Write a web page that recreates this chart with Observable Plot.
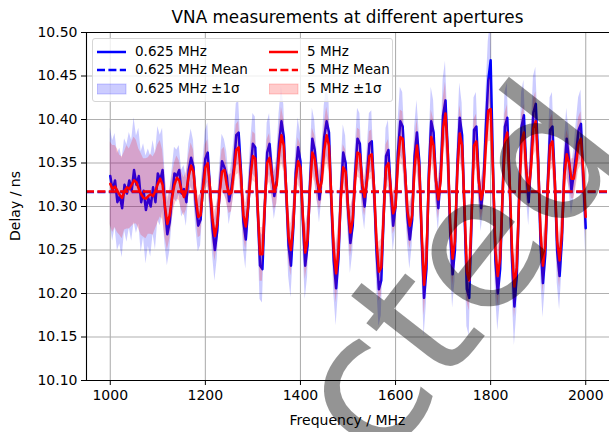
<!DOCTYPE html>
<html><head><meta charset="utf-8">
<script src="https://cdn.jsdelivr.net/npm/d3@7"></script>
<script src="https://cdn.jsdelivr.net/npm/@observablehq/plot@0.6"></script>
<style>
html,body{margin:0;padding:0;background:#fff;}
#fig{position:relative;width:609px;height:432px;overflow:hidden;font-family:"DejaVu Sans",sans-serif;}
#fig svg{position:absolute;left:0;top:0;}
#legend{position:absolute;left:92px;top:38px;width:299px;height:62px;background:rgba(255,255,255,0.8);border:1px solid #d6d6d6;border-radius:3px;font-size:13.5px;color:#000;}
.item{position:absolute;height:16px;line-height:16px;white-space:nowrap;}
.item svg{position:absolute;left:0;top:0;}
.item span{position:absolute;left:38px;top:-1px;}
</style></head>
<body><div id="fig"></div>
<script>
// ---- data ----
const freqStart = 1000, freqEnd = 2000, freqStep = 5;
const xTicks = [1000, 1200, 1400, 1600, 1800, 2000];
const yTicks = [10.10, 10.15, 10.20, 10.25, 10.30, 10.35, 10.40, 10.45, 10.50];

const blue = [
10.335,10.318,10.330,10.305,10.312,10.298,10.325,10.315,10.330,10.318,10.342,10.325,10.335,10.305,10.318,10.296,10.310,10.300,10.322,10.305,
10.338,10.330,10.342,10.298,10.268,10.282,10.312,10.338,10.335,10.342,10.315,10.320,10.305,10.342,10.356,10.345,10.302,10.278,10.285,10.325,
10.355,10.362,10.318,10.275,10.250,10.272,10.318,10.352,10.345,10.335,10.306,10.322,10.345,10.382,10.385,10.340,10.282,10.262,10.298,10.342,
10.372,10.368,10.298,10.232,10.228,10.298,10.362,10.372,10.338,10.312,10.330,10.372,10.398,10.380,10.318,10.255,10.232,10.275,10.338,10.368,
10.352,10.285,10.232,10.255,10.325,10.378,10.365,10.335,10.308,10.338,10.380,10.398,10.385,10.305,10.238,10.206,10.240,10.315,10.362,10.350,
10.298,10.258,10.278,10.338,10.378,10.372,10.322,10.300,10.335,10.372,10.375,10.318,10.248,10.205,10.215,10.288,10.358,10.365,10.318,10.278,
10.300,10.362,10.398,10.392,10.342,10.288,10.262,10.285,10.358,10.385,10.352,10.262,10.195,10.228,10.338,10.398,10.385,10.330,10.298,10.338,
10.405,10.422,10.362,10.270,10.222,10.250,10.348,10.402,10.382,10.295,10.205,10.195,10.285,10.388,10.392,10.332,10.298,10.325,10.392,10.445,
10.468,10.345,10.238,10.200,10.228,10.312,10.392,10.402,10.328,10.238,10.185,10.220,10.312,10.392,10.405,10.342,10.305,10.352,10.408,10.418,
10.355,10.258,10.212,10.245,10.325,10.388,10.392,10.330,10.248,10.220,10.262,10.342,10.378,10.352,10.318,10.338,10.362,10.388,10.395,10.330,10.275
];
const blueSigma = [
.055,.058,.054,.056,.055,.057,.053,.056,.055,.058,.060,.056,.055,.058,.054,.062,.056,.058,.054,.055,
.054,.052,.048,.042,.036,.034,.030,.030,.030,.028,.027,.027,.028,.030,.033,.031,.028,.030,.030,.028,
.032,.034,.027,.030,.036,.032,.027,.031,.032,.028,.027,.027,.031,.036,.037,.029,.031,.034,.028,.030,
.035,.035,.028,.039,.039,.028,.034,.035,.028,.027,.027,.035,.040,.037,.027,.035,.037,.031,.028,.034,
.032,.030,.039,.036,.027,.035,.034,.028,.027,.028,.036,.040,.037,.027,.037,.043,.037,.027,.032,.031,
.028,.035,.031,.028,.035,.035,.027,.027,.028,.035,.035,.027,.036,.043,.041,.030,.032,.034,.027,.030,
.028,.034,.039,.039,.031,.030,.034,.030,.032,.037,.032,.035,.045,.039,.028,.039,.037,.028,.027,.028,
.041,.045,.035,.032,.039,.036,.031,.040,.037,.028,.043,.044,.030,.037,.039,.028,.027,.027,.037,.045,
.046,.031,.037,.043,.039,.027,.039,.040,.028,.037,.045,.041,.027,.039,.040,.031,.027,.032,.041,.042,
.034,.035,.040,.036,.027,.037,.039,.028,.036,.039,.035,.030,.035,.034,.028,.028,.034,.037,.039,.031,.031
];
const red = [
10.326,10.320,10.323,10.318,10.313,10.310,10.318,10.322,10.320,10.325,10.330,10.328,10.320,10.314,10.310,10.309,10.312,10.314,10.312,10.318,
10.326,10.332,10.325,10.300,10.280,10.290,10.310,10.325,10.333,10.330,10.318,10.311,10.318,10.335,10.347,10.340,10.310,10.288,10.290,10.320,
10.345,10.350,10.320,10.285,10.266,10.280,10.315,10.340,10.342,10.325,10.314,10.316,10.340,10.365,10.368,10.335,10.290,10.277,10.300,10.335,
10.358,10.355,10.300,10.245,10.245,10.300,10.350,10.356,10.335,10.318,10.325,10.360,10.382,10.370,10.320,10.265,10.250,10.280,10.330,10.352,
10.345,10.290,10.247,10.262,10.320,10.362,10.355,10.330,10.318,10.330,10.365,10.382,10.370,10.310,10.250,10.223,10.250,10.310,10.345,10.340,
10.300,10.270,10.285,10.330,10.362,10.360,10.325,10.311,10.330,10.358,10.360,10.320,10.260,10.225,10.230,10.290,10.345,10.350,10.320,10.292,
10.300,10.350,10.380,10.378,10.340,10.295,10.278,10.290,10.345,10.370,10.345,10.270,10.210,10.240,10.330,10.380,10.370,10.330,10.308,10.330,
10.390,10.407,10.360,10.280,10.240,10.260,10.340,10.384,10.370,10.300,10.225,10.215,10.290,10.370,10.375,10.330,10.308,10.320,10.370,10.410,
10.412,10.340,10.250,10.220,10.240,10.310,10.375,10.385,10.330,10.250,10.208,10.230,10.310,10.375,10.385,10.340,10.318,10.345,10.390,10.398,
10.350,10.270,10.232,10.255,10.320,10.370,10.375,10.330,10.260,10.238,10.270,10.335,10.360,10.350,10.332,10.332,10.350,10.372,10.378,10.340,10.288
];
const redSigma = [
.048,.050,.047,.048,.046,.047,.045,.048,.046,.048,.050,.048,.046,.047,.045,.046,.044,.046,.045,.044,
.045,.044,.040,.035,.030,.028,.025,.025,.025,.023,.022,.022,.022,.024,.026,.025,.022,.024,.024,.022,
.026,.027,.022,.025,.029,.026,.022,.025,.026,.022,.022,.022,.025,.029,.030,.023,.025,.027,.023,.024,
.028,.028,.023,.031,.031,.023,.027,.028,.023,.022,.022,.028,.032,.030,.022,.028,.030,.025,.023,.027,
.026,.024,.031,.029,.022,.028,.027,.023,.022,.023,.029,.032,.030,.022,.030,.034,.030,.022,.026,.025,
.023,.028,.025,.023,.028,.028,.022,.022,.023,.028,.028,.022,.029,.034,.033,.024,.026,.027,.022,.024,
.023,.027,.031,.031,.025,.024,.027,.024,.026,.030,.026,.028,.036,.031,.023,.031,.030,.023,.022,.023,
.033,.036,.028,.026,.031,.029,.025,.032,.030,.023,.034,.035,.024,.030,.031,.023,.022,.022,.030,.036,
.037,.025,.030,.034,.031,.022,.031,.032,.023,.030,.036,.033,.022,.031,.032,.025,.022,.026,.033,.034,
.027,.028,.032,.029,.022,.030,.031,.023,.029,.031,.028,.024,.028,.027,.023,.023,.027,.030,.031,.025,.025
];
const blueMean = 10.3168;
const redMean = 10.3172;
const legendLabels = ["0.625 MHz", "5 MHz", "0.625 MHz Mean", "5 MHz Mean", "0.625 MHz \u00b11\u03c3", "5 MHz \u00b11\u03c3"];
const titleText = "VNA measurements at different apertures";
const xLabel = "Frequency / MHz";
const yLabel = "Delay / ns";
const watermarkText = "Retracted";

// ---- build rows ----
const freq = d3.range(freqStart, freqEnd + freqStep / 2, freqStep);
const rows = (vals, sig) => freq.map((f, i) => ({f, v: vals[i], lo: vals[i] - sig[i], hi: vals[i] + sig[i]}));
const blueRows = rows(blue, blueSigma);
const redRows = rows(red, redSigma);

const W = 609, H = 432, ML = 86, MR = 0, MT = 32, MB = 52;
const lw = 2.5, dash = "8,3.4";

const chart = Plot.plot({
  width: W, height: H,
  marginLeft: ML, marginRight: MR, marginTop: MT, marginBottom: MB,
  x: {domain: [950, 2050]},
  y: {domain: [10.10, 10.50]},
  style: {fontFamily: "DejaVu Sans, sans-serif", fontSize: "14px", background: "white", color: "black", overflow: "visible"},
  marks: [
    Plot.gridX(xTicks, {stroke: "#b0b0b0", strokeOpacity: 1, strokeWidth: 1.1}),
    Plot.gridY(yTicks, {stroke: "#b0b0b0", strokeOpacity: 1, strokeWidth: 1.1}),
    Plot.lineY(blueRows, {x: "f", y: "v", stroke: "blue", strokeWidth: lw, clip: true}),
    Plot.ruleY([blueMean], {stroke: "blue", strokeWidth: lw, strokeDasharray: dash}),
    Plot.areaY(blueRows, {x: "f", y1: "lo", y2: "hi", fill: "blue", fillOpacity: 0.2, clip: true}),
    Plot.lineY(redRows, {x: "f", y: "v", stroke: "red", strokeWidth: lw, clip: true}),
    Plot.ruleY([redMean], {stroke: "red", strokeWidth: lw, strokeDasharray: dash}),
    Plot.areaY(redRows, {x: "f", y1: "lo", y2: "hi", fill: "red", fillOpacity: 0.2, clip: true}),
    Plot.ruleY([10.10, 10.50], {stroke: "black", strokeWidth: 1.1}),
    Plot.ruleX([950], {stroke: "black", strokeWidth: 1.1}),
    Plot.axisX({ticks: xTicks, tickFormat: d3.format("d"), tickSize: 5, tickPadding: 5, fontSize: 14, label: null, stroke: "black"}),
    Plot.axisY({ticks: yTicks, tickFormat: d3.format(".2f"), tickSize: 5, tickPadding: 4, fontSize: 14, label: null, stroke: "black"})
  ]
});
const fig = document.getElementById("fig");
fig.appendChild(chart);

// overlay: title & axis labels
const ns = "http://www.w3.org/2000/svg";
const ov = document.createElementNS(ns, "svg");
ov.setAttribute("width", W); ov.setAttribute("height", H);
ov.style.pointerEvents = "none";
const cx = (ML + (W - MR)) / 2;
function txt(s, x, y, size, extra) {
  const t = document.createElementNS(ns, "text");
  t.textContent = s;
  t.setAttribute("x", x); t.setAttribute("y", y);
  t.setAttribute("font-family", "DejaVu Sans, sans-serif");
  t.setAttribute("font-size", size);
  t.setAttribute("text-anchor", "middle");
  t.setAttribute("fill", "#000");
  if (extra) for (const k in extra) t.setAttribute(k, extra[k]);
  ov.appendChild(t);
  return t;
}
txt(titleText, cx, 23, 16.8);
txt(xLabel, cx, 425, 14);
txt(yLabel, 0, 0, 14, {transform: `translate(20,${(MT + H - MB) / 2}) rotate(-90)`});
fig.appendChild(ov);

// legend
const lg = document.createElement("div");
lg.id = "legend";
const rowY = [4.5, 23, 42];
const colX = [4, 176];
const colors = ["blue", "red"];
legendLabels.forEach((lab, i) => {
  const col = i % 2, row = Math.floor(i / 2);
  const it = document.createElement("div");
  it.className = "item";
  it.style.left = colX[col] + "px";
  it.style.top = rowY[row] + "px";
  let sw;
  if (row === 0) sw = `<line x1="0" x2="29" y1="8" y2="8" stroke="${colors[col]}" stroke-width="${lw}"/>`;
  else if (row === 1) sw = `<line x1="0" x2="29" y1="8" y2="8" stroke="${colors[col]}" stroke-width="${lw}" stroke-dasharray="${dash}"/>`;
  else sw = `<rect x="0" y="3" width="29" height="10" fill="${colors[col]}" fill-opacity="0.2" stroke="${colors[col]}" stroke-opacity="0.2"/>`;
  it.innerHTML = `<svg width="30" height="16">${sw}</svg><span>${lab}</span>`;
  lg.appendChild(it);
});
fig.appendChild(lg);

// watermark
const wm = document.createElementNS(ns, "svg");
wm.setAttribute("width", W); wm.setAttribute("height", H);
wm.style.pointerEvents = "none";
const wt = document.createElementNS(ns, "text");
wt.textContent = watermarkText;
wt.setAttribute("x", 630); wt.setAttribute("y", 150);
wt.setAttribute("text-anchor", "end");
wt.setAttribute("font-family", "DejaVu Sans, sans-serif");
wt.setAttribute("font-size", 185);
wt.setAttribute("fill", "#000");
wt.setAttribute("fill-opacity", 0.42);
wt.setAttribute("transform", "rotate(-52 630 150)");
wm.appendChild(wt);
fig.appendChild(wm);
</script></body></html>
